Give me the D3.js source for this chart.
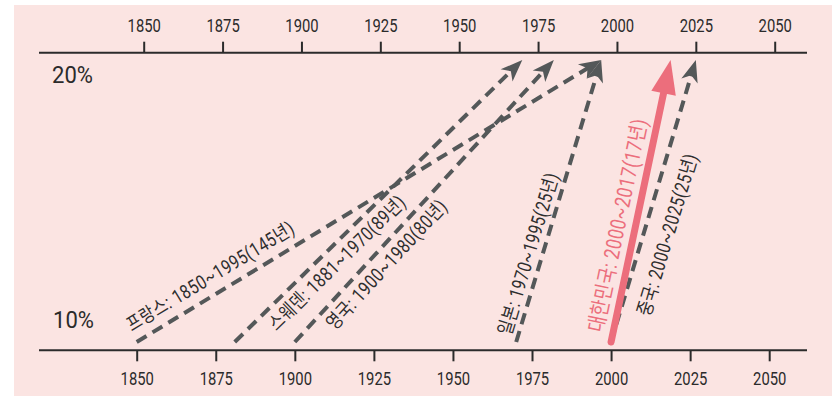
<!DOCTYPE html>
<html>
<head>
<meta charset="utf-8">
<script src="https://cdn.jsdelivr.net/npm/d3@7"></script>
<style>
  html, body { margin: 0; padding: 0; background: #ffffff; }
  svg { display: block; }
  text { font-family: Roboto, "Noto Sans CJK KR", sans-serif; }
</style>
</head>
<body>
<svg id="chart" width="832" height="396"></svg>
<script>
// Years in which the share of the population aged 65+ went from 10% to 20%
const countries  = ["프랑스", "스웨덴", "영국", "일본", "대한민국", "중국"];
const startYears = [1850, 1881, 1900, 1970, 2000, 2000];
const endYears   = [1995, 1970, 1980, 1995, 2017, 2025];
const shares     = [10, 20];               // % at the start and end of each arrow
const yearTicks  = [1850, 1875, 1900, 1925, 1950, 1975, 2000, 2025, 2050];
const shareLabels = ["10%", "20%"];
const highlight  = "대한민국";

// Label placement along each arrow: distance from the arrow start and
// perpendicular offset (positive = upper-left side of the arrow)
const labelAlong = [1, 37, 35, 4, 7, 35];
const labelPerp  = [11, -22, -22, 7, 10, -30];

const W = 832, H = 396;
const svg = d3.select("#chart");

const colors = { bg: "#fbe4e2", axis: "#2b2b2b", gray: "#545859", red: "#ec6e7c", text: "#2e2e2e" };

// background panel
svg.append("rect").attr("x", 14).attr("y", 5).attr("width", W - 14).attr("height", H - 5)
  .attr("fill", colors.bg);

// scales: the top axis marks where each arrow ends, the bottom axis where it starts
const xTop = d3.scaleLinear().domain([1850, 2050]).range([143.7, 774.7]);
const xBottom = d3.scaleLinear().domain([1850, 2050]).range([136.7, 769.2]);
const y = d3.scaleLinear().domain(shares).range([342, 60]);

const axisTopY = 52.7, axisBottomY = 350.3;
const lineLeft = 39, lineRight = 807;

function condense(sel, k) {
  sel.attr("transform", function () {
    const t = d3.select(this).attr("transform") || "";
    return t + ` scale(${k},1)`;
  });
}

// top axis
const gTop = svg.append("g").attr("transform", `translate(0,${axisTopY})`)
  .call(d3.axisTop(xTop).tickValues(yearTicks).tickFormat(d3.format("d")).tickSize(11).tickSizeOuter(0));
gTop.select(".domain").remove();
gTop.selectAll(".tick line").attr("stroke", colors.axis).attr("stroke-width", 2);
gTop.selectAll(".tick text").attr("y", -21).attr("dy", 0)
  .attr("fill", colors.axis).attr("font-size", 18.5).attr("font-family", null)
  .call(condense, 0.8);
svg.append("line").attr("x1", lineLeft).attr("x2", lineRight)
  .attr("y1", axisTopY).attr("y2", axisTopY)
  .attr("stroke", colors.axis).attr("stroke-width", 2);

// bottom axis
const gBot = svg.append("g").attr("transform", `translate(0,${axisBottomY})`)
  .call(d3.axisBottom(xBottom).tickValues(yearTicks).tickFormat(d3.format("d")).tickSize(11).tickSizeOuter(0));
gBot.select(".domain").remove();
gBot.selectAll(".tick line").attr("stroke", colors.axis).attr("stroke-width", 2);
gBot.selectAll(".tick text").attr("y", 35).attr("dy", 0)
  .attr("fill", colors.axis).attr("font-size", 18.5).attr("font-family", null)
  .call(condense, 0.8);
svg.append("line").attr("x1", lineLeft).attr("x2", lineRight)
  .attr("y1", axisBottomY).attr("y2", axisBottomY)
  .attr("stroke", colors.axis).attr("stroke-width", 2);

// share labels at the left
svg.append("text").attr("transform", `translate(52,83.3) scale(0.9,1)`)
  .attr("font-size", 24.5).attr("fill", colors.axis).text(shareLabels[1]);
svg.append("text").attr("transform", `translate(53,327.7) scale(0.9,1)`)
  .attr("font-size", 24.5).attr("fill", colors.axis).text(shareLabels[0]);

// arrows
const rows = countries.map((c, i) => ({
  name: c, start: startYears[i], end: endYears[i], along: labelAlong[i], perp: labelPerp[i],
  hi: c === highlight
}));
// highlighted arrow drawn last so it sits on top
const order = rows.filter(d => !d.hi).concat(rows.filter(d => d.hi));

const gArrows = svg.append("g");
const gLabels = svg.append("g");

order.forEach(d => {
  const x0 = xBottom(d.start), y0 = y(shares[0]);
  const x1 = xTop(d.end), y1 = y(shares[1]);
  const a = Math.atan2(y1 - y0, x1 - x0);
  const ux = Math.cos(a), uy = Math.sin(a);
  const nx = uy, ny = -ux;               // normal pointing to the upper-left
  const deg = a * 180 / Math.PI;
  const color = d.hi ? colors.red : colors.gray;

  const headLen = d.hi ? 34 : 22;
  const headHalf = d.hi ? 12.5 : 8.5;
  const notch = d.hi ? 0 : 6;
  const back = headLen - notch - 1;

  gArrows.append("line")
    .attr("x1", x0).attr("y1", y0)
    .attr("x2", x1 - ux * back).attr("y2", y1 - uy * back)
    .attr("stroke", color)
    .attr("stroke-width", d.hi ? 7 : 4)
    .attr("stroke-linecap", d.hi ? "round" : "butt")
    .attr("stroke-dasharray", d.hi ? null : "11.5,7");

  gArrows.append("path")
    .attr("d", `M0,0 L${-headLen},${-headHalf} L${-headLen + notch},0 L${-headLen},${headHalf} Z`)
    .attr("transform", `translate(${x1},${y1}) rotate(${deg})`)
    .attr("fill", color);

  const px = x0 + ux * d.along + nx * d.perp;
  const py = y0 + uy * d.along + ny * d.perp;
  gLabels.append("text")
    .attr("transform", `translate(${px},${py}) rotate(${deg}) scale(0.8,1)`)
    .attr("font-size", d.hi ? 21.5 : 19.5)
    .attr("letter-spacing", 0.6)
    .attr("fill", d.hi ? colors.red : colors.text)
    .text(`${d.name}: ${d.start}~${d.end}(${d.end - d.start}년)`);
});
</script>
</body>
</html>
